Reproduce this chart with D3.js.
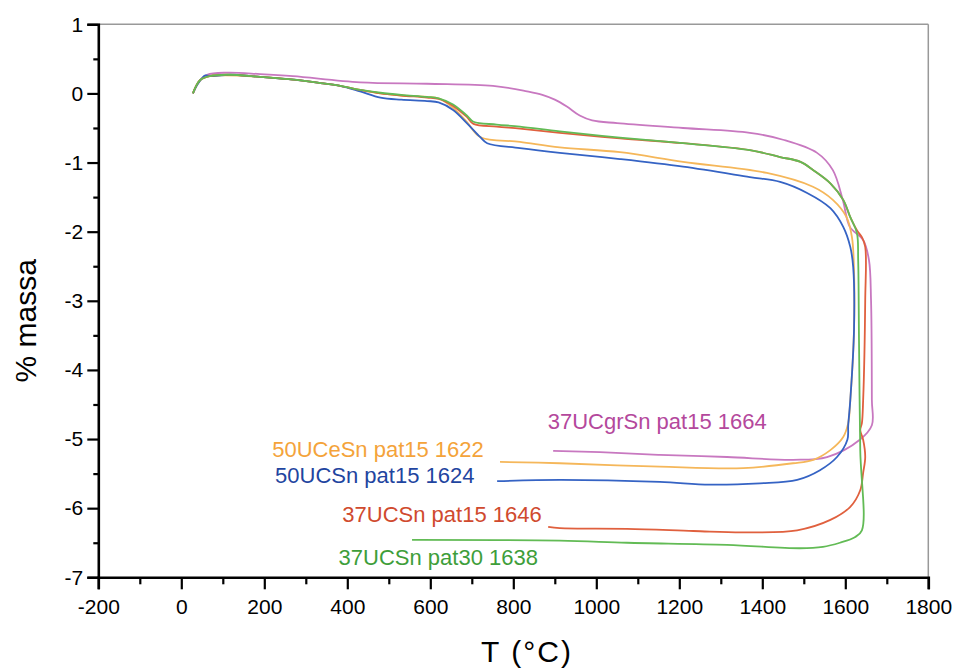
<!DOCTYPE html>
<html>
<head>
<meta charset="utf-8">
<script src="https://cdn.jsdelivr.net/npm/d3@7"></script>
<style>
  body { margin: 0; background: #fff; }
  svg { display: block; font-family: "Liberation Sans", Arial, sans-serif; }
</style>
</head>
<body>
<svg id="chart" width="955" height="668"></svg>
<script>
// ---- data: [T (°C), % massa] in measurement order (heating then cooling) ----
const s37UCgrSn15 = [[28,0],[45,0.19],[62,0.27],[110,0.30],[190,0.28],[269,0.25],[431,0.16],[592,0.14],[751,0.11],[833,0.03],[870,-0.02],[900,-0.09],[929,-0.19],[960,-0.32],[990,-0.39],[1050,-0.43],[1209,-0.50],[1370,-0.57],[1450,-0.67],[1532,-0.86],[1570,-1.11],[1594,-1.54],[1611,-1.93],[1643,-2.12],[1657,-2.41],[1662,-2.99],[1664,-4.43],[1664,-4.80],[1635,-5.01],[1556,-5.26],[1474,-5.30],[1315,-5.26],[1153,-5.23],[1009,-5.19],[896,-5.17]];
const s50UCeSn15 = [[28,0],[45,0.19],[69,0.25],[105,0.26],[190,0.24],[287,0.19],[335,0.15],[383,0.11],[431,0.05],[480,0.0],[530,-0.03],[592,-0.05],[620,-0.07],[655,-0.21],[688,-0.41],[720,-0.63],[816,-0.70],[912,-0.78],[1057,-0.85],[1209,-0.99],[1411,-1.15],[1522,-1.35],[1570,-1.54],[1603,-1.79],[1616,-2.08],[1621,-2.56],[1621,-3.42],[1612,-4.44],[1607,-4.77],[1595,-4.97],[1564,-5.16],[1523,-5.30],[1474,-5.35],[1354,-5.42],[1153,-5.40],[912,-5.35],[768,-5.33]];
const s50UCSn15 = [[28,0],[40,0.14],[58,0.26],[69,0.25],[117,0.27],[190,0.24],[287,0.19],[335,0.15],[383,0.11],[431,0.03],[480,-0.06],[530,-0.09],[592,-0.11],[620,-0.13],[655,-0.24],[688,-0.43],[720,-0.63],[737,-0.72],[816,-0.79],[912,-0.86],[1057,-0.95],[1209,-1.06],[1370,-1.21],[1443,-1.28],[1508,-1.44],[1564,-1.66],[1595,-1.93],[1612,-2.22],[1619,-2.51],[1621,-3.42],[1612,-4.44],[1607,-4.80],[1605,-5.01],[1580,-5.26],[1539,-5.45],[1484,-5.59],[1394,-5.64],[1274,-5.66],[1153,-5.62],[912,-5.59],[761,-5.61]];
const s37UCSn15 = [[28,0],[45,0.19],[69,0.25],[110,0.27],[190,0.24],[287,0.19],[335,0.15],[383,0.11],[431,0.05],[480,0.0],[530,-0.03],[592,-0.06],[620,-0.08],[655,-0.18],[688,-0.34],[704,-0.44],[760,-0.48],[816,-0.51],[912,-0.57],[1057,-0.65],[1209,-0.72],[1370,-0.82],[1443,-0.92],[1492,-0.99],[1523,-1.11],[1564,-1.30],[1595,-1.54],[1612,-1.79],[1628,-1.98],[1640,-2.08],[1648,-2.22],[1648,-2.99],[1643,-4.44],[1640,-4.77],[1636,-4.87],[1643,-5.01],[1648,-5.26],[1643,-5.49],[1636,-5.74],[1612,-5.98],[1564,-6.17],[1484,-6.32],[1354,-6.35],[1234,-6.33],[1074,-6.30],[912,-6.29],[884,-6.27]];
const s37UCSn30 = [[28,0],[45,0.19],[69,0.25],[110,0.27],[190,0.24],[287,0.19],[335,0.15],[383,0.11],[431,0.05],[480,0.01],[530,-0.02],[592,-0.05],[620,-0.07],[655,-0.16],[688,-0.32],[704,-0.41],[760,-0.45],[816,-0.48],[912,-0.55],[1057,-0.64],[1209,-0.72],[1370,-0.82],[1443,-0.92],[1492,-0.99],[1523,-1.11],[1564,-1.30],[1595,-1.54],[1612,-1.79],[1628,-2.02],[1631,-2.41],[1633,-3.57],[1636,-5.16],[1640,-6.32],[1623,-6.42],[1587,-6.50],[1546,-6.56],[1491,-6.58],[1315,-6.53],[1074,-6.50],[912,-6.47],[556,-6.46]];

const seriesNames = ["37UCgrSn pat15 1664","50UCeSn pat15 1622","50UCSn pat15 1624","37UCSn pat15 1646","37UCSn pat30 1638"];
const seriesData = [s37UCgrSn15, s50UCeSn15, s50UCSn15, s37UCSn15, s37UCSn30];
// label anchor positions in data units [T, % massa]
const labelT = [883, 219, 226, 388, 379];
const labelM = [-4.85, -5.26, -5.63, -6.20, -6.82];

const xTicks = [-200,0,200,400,600,800,1000,1200,1400,1600,1800];
const xMinor = [-100,100,300,500,700,900,1100,1300,1500,1700];
const yTicks = [-7,-6,-5,-4,-3,-2,-1,0,1];
const yMinor = [-6.5,-5.5,-4.5,-3.5,-2.5,-1.5,-0.5,0.5];

// ---- style ----
const lineColors = ["#c878c0","#f5b75a","#3563c4","#e0603e","#62bb55"];
const labelColors = ["#b4489c","#f4a33a","#1f45a0","#d04a2e","#3e9e3a"];

const W = 955, H = 668;
const m = {left: 98.3, right: 26.7, top: 24.3, bottom: 90.7};
const svg = d3.select("#chart");

const x = d3.scaleLinear().domain([-200, 1800]).range([m.left, W - m.right]);
const y = d3.scaleLinear().domain([-7, 1]).range([H - m.bottom, m.top]);

// frame top/right (gray)
svg.append("line").attr("x1", x(-200)).attr("x2", x(1800)).attr("y1", y(1)).attr("y2", y(1))
  .attr("stroke", "#999").attr("stroke-width", 1.5);
svg.append("line").attr("x1", x(1800)).attr("x2", x(1800)).attr("y1", y(1)).attr("y2", y(-7))
  .attr("stroke", "#999").attr("stroke-width", 1.5);

// curves
const line = d3.line().x(d => x(d[0])).y(d => y(d[1])).curve(d3.curveCatmullRom.alpha(0.5));
seriesData.forEach((s, i) => {
  svg.append("path").datum(s).attr("d", line)
    .attr("fill", "none").attr("stroke", lineColors[i]).attr("stroke-width", 1.8)
    .attr("stroke-linejoin", "round");
});

// axes
const fs = 21;
const fmt = d => String(d);
const xAxis = svg.append("g").attr("transform", `translate(0,${y(-7)})`)
  .call(d3.axisBottom(x).tickValues(xTicks).tickSize(12).tickPadding(10).tickFormat(fmt));
const xMin = svg.append("g").attr("transform", `translate(0,${y(-7)})`)
  .call(d3.axisBottom(x).tickValues(xMinor).tickSize(7).tickFormat(""));
const yAxis = svg.append("g").attr("transform", `translate(${x(-200)},0)`)
  .call(d3.axisLeft(y).tickValues(yTicks).tickSize(11).tickPadding(4).tickFormat(fmt));
const yMin = svg.append("g").attr("transform", `translate(${x(-200)},0)`)
  .call(d3.axisLeft(y).tickValues(yMinor).tickSize(5).tickFormat(""));
[xAxis, xMin, yAxis, yMin].forEach(g => {
  g.select(".domain").attr("stroke", "#000").attr("stroke-width", 2.6);
  g.selectAll(".tick line").attr("stroke", "#000").attr("stroke-width", 2.2);
  g.selectAll(".tick text").attr("font-size", fs).attr("fill", "#000")
    .attr("font-family", "'Liberation Sans', Arial, sans-serif");
});
xMin.select(".domain").remove();
yMin.select(".domain").remove();

// axis titles
svg.append("text").attr("x", 527).attr("y", 662).attr("text-anchor", "middle")
  .attr("font-size", 30).attr("letter-spacing", 2).attr("fill", "#000").text("T (°C)");
svg.append("text").attr("transform", `translate(36,${(y(-7) + y(1)) / 2 + 20}) rotate(-90)`)
  .attr("text-anchor", "middle").attr("font-size", 30).attr("fill", "#000").text("% massa");

// series labels
seriesNames.forEach((n, i) => {
  svg.append("text").attr("x", x(labelT[i])).attr("y", y(labelM[i]))
    .attr("font-size", 22).attr("fill", labelColors[i]).text(n);
});
</script>
</body>
</html>
